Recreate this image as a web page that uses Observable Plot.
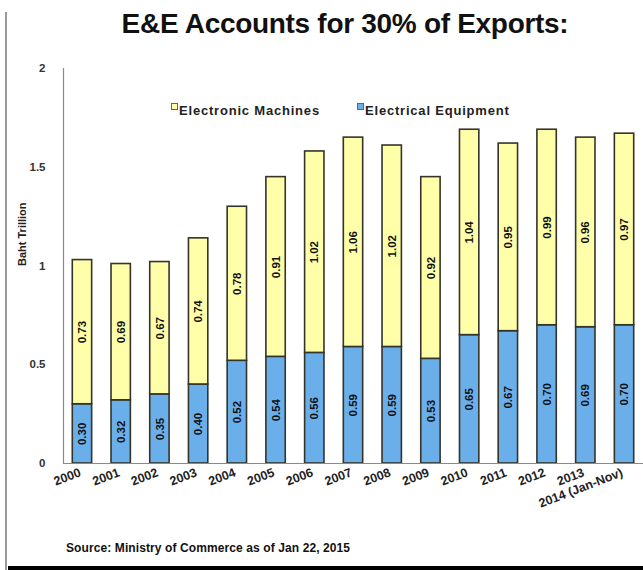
<!DOCTYPE html>
<html>
<head>
<meta charset="utf-8">
<script src="https://cdn.jsdelivr.net/npm/d3@7"></script>
<script src="https://cdn.jsdelivr.net/npm/@observablehq/plot@0.6"></script>
<style>
  body { margin: 0; background: #fff; }
  #wrap { position: relative; width: 643px; height: 570px; overflow: hidden; background: #fff; font-family: "Liberation Sans", Arial, sans-serif; }
  #chart { position: absolute; left: 0; top: 0; }
  .title { position: absolute; left: 0; width: 690px; top: 8px; text-align: center; font-size: 28px; font-weight: bold; letter-spacing: -0.3px; color: #111; white-space: nowrap; }
  .legend { position: absolute; top: 103px; font-size: 13px; font-weight: bold; color: #222; white-space: nowrap; letter-spacing: 0.8px; }
  .legend .sw { display: inline-block; width: 5px; height: 5px; border: 1px solid #666; margin-right: 1px; vertical-align: 5px; }
  .caption { position: absolute; left: 66px; top: 541px; font-size: 12px; font-weight: bold; color: #111; white-space: nowrap; letter-spacing: 0.1px; }
  .frameL { position: absolute; left: 5px; top: 12px; bottom: 0; width: 2px; background: #9a9a9a; }
  .frameB { position: absolute; left: 8px; right: 0; bottom: 0; height: 4px; background: #000; }
</style>
</head>
<body>
<div id="wrap">
  <div id="chart"></div>
  <div class="title">E&amp;E Accounts for 30% of Exports:</div>
  <div class="legend" id="leg1" style="left:171px"></div>
  <div class="legend" id="leg2" style="left:357px"></div>
  <div class="caption">Source: Ministry of Commerce as of Jan 22, 2015</div>
  <div class="frameL"></div>
  <div class="frameB"></div>
</div>
<script>
const years = ["2000","2001","2002","2003","2004","2005","2006","2007","2008","2009","2010","2011","2012","2013","2014 (Jan-Nov)"];
const equipment = [0.30,0.32,0.35,0.40,0.52,0.54,0.56,0.59,0.59,0.53,0.65,0.67,0.70,0.69,0.70];
const machines  = [0.73,0.69,0.67,0.74,0.78,0.91,1.02,1.06,1.02,0.92,1.04,0.95,0.99,0.96,0.97];
const seriesNames = ["Electrical Equipment", "Electronic Machines"];
const seriesColors = ["#6aaeea", "#ffffaa"];
const yTicks = [0, 0.5, 1, 1.5, 2];
const yTitle = "Baht Trillion";

const rows = years.flatMap((yr, i) => [
  {year: yr, series: seriesNames[0], value: equipment[i]},
  {year: yr, series: seriesNames[1], value: machines[i]}
]);

const chart = Plot.plot({
  width: 643,
  height: 570,
  marginTop: 68,
  marginBottom: 107,
  marginLeft: 63,
  marginRight: 0,
  style: {fontFamily: "'Liberation Sans', Arial, sans-serif", fontWeight: "bold", fontSize: "11px", color: "#222", background: "transparent"},
  x: {domain: years, paddingInner: 0.5, paddingOuter: 0.24, round: false, label: null, axis: null},
  y: {domain: [0, 2], label: null},
  color: {domain: seriesNames, range: seriesColors},
  marks: [
    Plot.barY(rows, {x: "year", y: "value", z: "series", fill: "series", stroke: "#34342a", strokeWidth: 1.6}),
    Plot.text(rows, Plot.stackY({x: "year", y: "value", z: "series", text: d => d.value.toFixed(2), rotate: -90, fontSize: 11.5, fill: "#111"})),
    Plot.ruleY([0], {stroke: "#8a8a8a", strokeWidth: 1.2}),
    Plot.frame({anchor: "left", stroke: "#8a8a8a", strokeWidth: 1.2}),
    Plot.axisY({ticks: yTicks, tickSize: 0, tickPadding: 18, tickFormat: d => String(d), label: null, fontSize: 11.5, fill: "#333"}),
    Plot.text(years, {x: d => d, frameAnchor: "bottom", dx: -4, dy: 4, textAnchor: "end", lineAnchor: "top", rotate: -21, fontSize: 12.5, fill: "#222"}),
    Plot.text([yTitle], {frameAnchor: "left", dx: -41, rotate: -90, fontSize: 11, fill: "#222"})
  ]
});
document.getElementById("chart").appendChild(chart);

document.getElementById("leg1").innerHTML = `<span class="sw" style="background:${seriesColors[1]}"></span>${seriesNames[1]}`;
document.getElementById("leg2").innerHTML = `<span class="sw" style="background:${seriesColors[0]}"></span>${seriesNames[0]}`;
</script>
</body>
</html>
